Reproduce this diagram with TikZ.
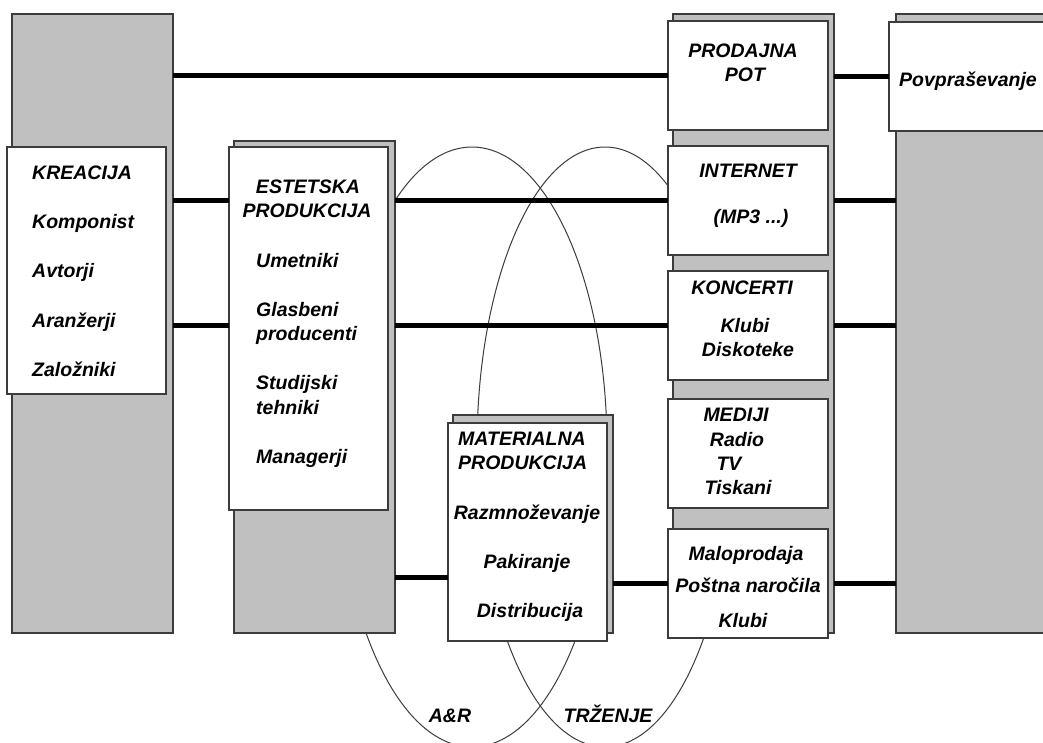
\documentclass[tikz,border=0pt]{standalone}
\usepackage{fontspec}
\setmainfont{Liberation Sans}
\definecolor{shade}{RGB}{192,192,192}
\definecolor{edge}{RGB}{60,60,60}
\newcommand\lbfont{\fontsize{19.5}{24}\selectfont\bfseries\itshape}
\newcommand\mpthree{(MP3 ...)}
\tikzset{
  back/.style={draw=edge, fill=shade, line width=1.4pt, inner sep=0pt, outer sep=0pt, anchor=north west},
  card/.style={back, fill=white},
  link/.style={line width=5pt},
  loop/.style={draw=edge, line width=1pt},
  lbl/.style={font=\lbfont, inner sep=0pt}
}
\begin{document}
\begin{tikzpicture}[x=1pt,y=-1pt]
\useasboundingbox (0,0) rectangle (1043,742);
\clip (0,0) rectangle (1043,742);
\fill[white] (0,0) rectangle (1043,742);
% A&R and trzenje loops
\draw[loop] (472,447) ellipse [x radius=135pt, y radius=300pt];
\draw[loop] (605,447) ellipse [x radius=128pt, y radius=300pt];
% columns
\node[back, minimum width=161pt, minimum height=619pt] (kreback) at (12,14) {};
\node[card, minimum width=159pt, minimum height=247pt] (krecard) at (7,147) {};
\node[back, minimum width=161pt, minimum height=492pt] (estback) at (234,141) {};
\node[card, minimum width=159pt, minimum height=363pt] (estcard) at (229,147) {};
\node[back, minimum width=160pt, minimum height=218pt] (matback) at (453,415) {};
\node[card, minimum width=159pt, minimum height=218pt] (matcard) at (448,423) {};
\node[back, minimum width=161pt, minimum height=619pt] (potback) at (673,14) {};
\foreach \n/\y in {prodajna/21, internet/146, koncerti/271, mediji/399, malo/529}
  \node[card, minimum width=160pt, minimum height=109pt] (\n) at (668,\y) {};
\node[back, minimum width=160pt, minimum height=619pt] (trgback) at (896,14) {};
\node[card, minimum width=170pt, minimum height=109pt] (povp) at (889,22) {};
% links
\coordinate (mlink) at ([yshift=-45pt]matcard.west);
\draw[link] (kreback.east |- prodajna.west) -- (prodajna.west);
\draw[link] (potback.east |- povp.west) -- (povp.west);
\foreach \n in {internet, koncerti} {
  \draw[link] (kreback.east |- \n.west) -- (estcard.west |- \n.west);
  \draw[link] (estback.east |- \n.west) -- (\n.west);
  \draw[link] (potback.east |- \n.west) -- (trgback.west |- \n.west);
}
\draw[link] (estback.east |- mlink) -- (mlink);
\draw[link] (matback.east |- malo.west) -- (malo.west);
\draw[link] (potback.east |- malo.west) -- (trgback.west |- malo.west);
% texts
\foreach \y/\t [count=\i] in {179/KREACIJA, 228/Komponist, 277/Avtorji, 327/Aranžerji, 376/Založniki}
  \node[lbl, anchor=base west] (kre\i) at (32,\y) {\t};
\node[lbl, anchor=base] (est1) at (308,193) {ESTETSKA};
\node[lbl, anchor=base] (est2) at (307,217) {PRODUKCIJA};
\foreach \y/\t [count=\i] in {267/Umetniki, 316/Glasbeni, 340/producenti, 389/Studijski, 414/tehniki, 463/Managerji}
  \node[lbl, anchor=base west] (estitem\i) at (256,\y) {\t};
\node[lbl, anchor=base west] (mat1) at (458,445) {MATERIALNA};
\node[lbl, anchor=base west] (mat2) at (458,469) {PRODUKCIJA};
\foreach \x/\y/\t [count=\i] in {527/519/Razmnoževanje, 527/568/Pakiranje, 530/617/Distribucija}
  \node[lbl, anchor=base] (matitem\i) at (\x,\y) {\t};
\foreach \x/\y/\t [count=\i] in {743/57/PRODAJNA, 745/81/POT, 748/177/INTERNET, 751/223/\mpthree,
    742/294/KONCERTI, 745/332/Klubi, 748/356/Diskoteke,
    736/421/MEDIJI, 737/446/Radio, 729/470/TV, 738/494/Tiskani,
    746/560/Maloprodaja, 748/592/Poštna naročila, 743/627/Klubi}
  \node[lbl, anchor=base] (pot\i) at (\x,\y) {\t};
\node[lbl, anchor=base] (povptext) at (968,86) {Povpraševanje};
\node[lbl, anchor=base] (ar) at (450,722) {A\&R};
\node[lbl, anchor=base] (trz) at (608,722) {TRŽENJE};
\end{tikzpicture}
\end{document}
